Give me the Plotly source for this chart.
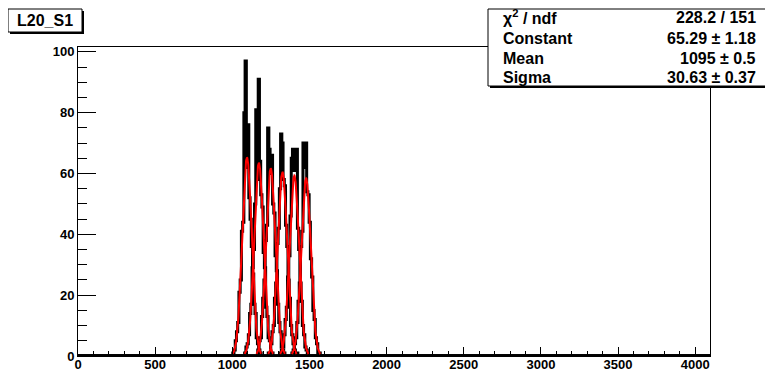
import numpy as np
import plotly.graph_objects as go

# ---------------- data ----------------
bin_width = 8
peak_centers = [1095, 1172, 1249, 1325, 1402, 1478]

hist1 = [0, 1, 2, 5, 8, 11, 21, 25, 41, 44, 80, 97, 62, 76, 52, 45, 36, 27, 17, 14, 6, 4, 2, 1, 0]
hist2 = [0, 1, 3, 4, 7, 14, 17, 29, 35, 50, 81, 58, 91, 64, 53, 49, 34, 29, 16, 13, 6, 5, 1, 1, 0]
hist3 = [0, 0, 2, 5, 6, 13, 19, 25, 38, 43, 75, 68, 60, 66, 50, 47, 33, 28, 17, 11, 8, 3, 2, 1, 0]
hist4 = [0, 1, 1, 4, 8, 10, 19, 24, 37, 42, 55, 73, 70, 58, 56, 43, 36, 25, 19, 10, 7, 4, 2, 0, 1]
hist5 = [0, 1, 2, 3, 7, 12, 16, 26, 33, 46, 65, 68, 61, 67, 68, 42, 35, 24, 18, 10, 7, 3, 2, 1, 0]
hist6 = [0, 1, 2, 4, 6, 11, 18, 24, 36, 41, 70, 62, 70, 54, 53, 44, 32, 26, 15, 12, 6, 4, 1, 1, 0]
histograms = [hist1, hist2, hist3, hist4, hist5, hist6]

# Gaussian fit parameters (first one from the stats box, others estimated)
fit_constants = [65.29, 63.5, 61.7, 60.5, 59.3, 58.4]
fit_means = [1095, 1172, 1249, 1325, 1402, 1478]
fit_sigmas = [30.63, 30.6, 30.6, 30.6, 30.6, 30.6]

title_text = "L20_S1"
stat_labels = ["χ<sup>2</sup> / ndf", "Constant", "Mean", "Sigma"]
stat_values = ["228.2 / 151", "65.29 ± 1.18", "1095 ± 0.5", "30.63 ± 0.37"]

# ---------------- layout geometry ----------------
# the page body has an 8px margin, so the figure is offset by 8px
OFF = 8
W, H = 773 - OFF, 371 - OFF
PL, PR, PT, PB = 78, 710, 47, 356          # plot area in page pixels
L, T = PL - OFF, PT - OFF
R, B = (W + OFF) - PR, (H + OFF) - PB
PW, PH = PR - PL, PB - PT


def px(x):
    return (x - PL) / PW


def py(y):
    return (PB - y) / PH


FONT = "Liberation Sans, Arial, Helvetica, sans-serif"

fig = go.Figure()

for center, counts in zip(peak_centers, histograms):
    n = len(counts)
    start = center - bin_width * (n // 2) - bin_width / 2
    edges = [start + i * bin_width for i in range(n + 1)]
    xs = [0] + edges + [4096]
    ys = [0] + list(counts) + [0, 0]
    fig.add_trace(go.Scatter(x=xs, y=ys, mode="lines",
                             line=dict(color="black", width=3, shape="hv"),
                             hoverinfo="skip", showlegend=False))

for c, m, s in zip(fit_constants, fit_means, fit_sigmas):
    xf = np.linspace(m - 3 * s, m + 3 * s, 200)
    yf = c * np.exp(-0.5 * ((xf - m) / s) ** 2)
    fig.add_trace(go.Scatter(x=xf, y=yf, mode="lines",
                             line=dict(color="#ff0000", width=2),
                             hoverinfo="skip", showlegend=False))

shapes = []
# title box shadow + box
shapes.append(dict(type="rect", xref="paper", yref="paper",
                   x0=px(10), x1=px(84), y0=py(34), y1=py(11),
                   fillcolor="black", line=dict(width=0), layer="above"))
shapes.append(dict(type="rect", xref="paper", yref="paper",
                   x0=px(8), x1=px(82), y0=py(32), y1=py(9),
                   fillcolor="white", line=dict(color="black", width=1), layer="above"))
# stats box shadow + box
shapes.append(dict(type="rect", xref="paper", yref="paper",
                   x0=px(490), x1=px(772), y0=py(88), y1=py(11),
                   fillcolor="black", line=dict(width=0), layer="above"))
shapes.append(dict(type="rect", xref="paper", yref="paper",
                   x0=px(488), x1=px(770), y0=py(86), y1=py(9),
                   fillcolor="white", line=dict(color="black", width=1), layer="above"))

annotations = [dict(xref="paper", yref="paper", x=px(45), y=py(20.5),
                    text=title_text, showarrow=False, xanchor="center", yanchor="middle",
                    font=dict(family=FONT, size=16, color="black", weight="bold"))]
row_y = [17.5, 38, 58.5, 77.5]
for lab, val, yy in zip(stat_labels, stat_values, row_y):
    annotations.append(dict(xref="paper", yref="paper", x=px(501), y=py(yy),
                            text=lab, showarrow=False, xanchor="left", yanchor="middle",
                            font=dict(family=FONT, size=16, color="black", weight="bold")))
    annotations.append(dict(xref="paper", yref="paper", x=px(758), y=py(yy),
                            text=val, showarrow=False, xanchor="right", yanchor="middle",
                            font=dict(family=FONT, size=16, color="black", weight="bold")))

fig.update_layout(
    width=W, height=H,
    margin=dict(l=L, r=R, t=T, b=B, pad=0, autoexpand=False),
    paper_bgcolor="white", plot_bgcolor="white",
    showlegend=False,
    shapes=shapes, annotations=annotations,
    xaxis=dict(range=[0, 4096], showgrid=False, zeroline=False, automargin=False,
               showline=True, linecolor="black", linewidth=1, mirror=True,
               ticks="inside", ticklen=9, tickcolor="black", tickwidth=1,
               tick0=0, dtick=500, ticklabelstandoff=-4,
               minor=dict(ticks="inside", ticklen=5, dtick=100, tick0=0,
                          tickcolor="black", showgrid=False),
               tickfont=dict(family=FONT, size=13, color="black", weight="bold")),
    yaxis=dict(range=[0, 101.6], showgrid=False, zeroline=False, automargin=False,
               showline=True, linecolor="black", linewidth=1, mirror=True,
               ticks="inside", ticklen=18, tickcolor="black", tickwidth=1,
               tick0=0, dtick=20,
               minor=dict(ticks="inside", ticklen=9, dtick=5, tick0=0,
                          tickcolor="black", showgrid=False),
               tickfont=dict(family=FONT, size=13, color="black", weight="bold")),
)

fig.write_html("out.html")
